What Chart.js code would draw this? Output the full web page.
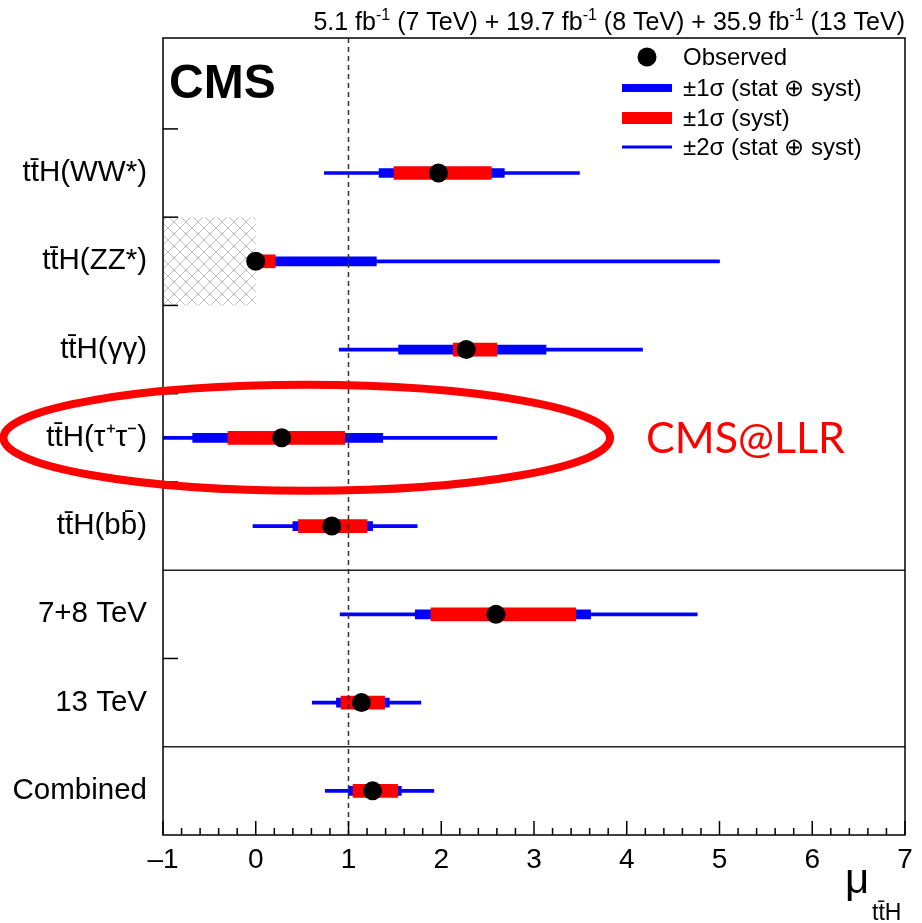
<!DOCTYPE html>
<html>
<head>
<meta charset="utf-8">
<script src="https://cdn.jsdelivr.net/npm/chart.js@4/dist/chart.umd.min.js"></script>
<style>
  html, body { margin: 0; padding: 0; background: #fff; }
  #c { display: block; }
</style>
</head>
<body>
<canvas id="c" width="922" height="923"></canvas>
<script>
// ---------- data ----------
const categories = ['t\u0074\u0304H(WW*)', 't\u0074\u0304H(ZZ*)', 't\u0074\u0304H(\u03b3\u03b3)', 't\u0074\u0304H(\u03c4\u207a\u03c4\u207b)', 't\u0074\u0304H(b\u0062\u0304)', '7+8 TeV', '13 TeV', 'Combined'];
const observed = [1.97, 0.00, 2.27, 0.28, 0.82, 2.59, 1.14, 1.26];
const tot1Lo  = [1.33, 0.00, 1.54, -0.68, 0.40, 1.72, 0.87, 1.00];
const tot1Hi  = [2.68, 1.30, 3.13, 1.37, 1.26, 3.61, 1.44, 1.57];
const syst1Lo = [1.49, 0.00, 2.13, -0.30, 0.46, 1.89, 0.92, 1.05];
const syst1Hi = [2.54, 0.21, 2.60, 0.96, 1.20, 3.45, 1.39, 1.53];
const tot2Lo  = [0.74, 0.00, 0.90, -1.00, -0.03, 0.91, 0.61, 0.75];
const tot2Hi  = [3.49, 5.00, 4.17, 2.60, 1.74, 4.76, 1.78, 1.92];
const xTickValues = [-1, 0, 1, 2, 3, 4, 5, 6, 7];
const sectionBreaks = [4.5, 6.5];
const leftTicks = [-0.5, 0.5, 1.5, 2.5, 3.5, 5.5];
const excludedRows = [1];
const excludedFrom = [-1];
const excludedTo = [0];
const smRef = 1;
const legendLabels = ['Observed', '\u00b11\u03c3 (stat \u2295 syst)', '\u00b11\u03c3 (syst)', '\u00b12\u03c3 (stat \u2295 syst)'];
const titleParts = [['5.1 fb', false], ['-1', true], [' (7 TeV) + 19.7 fb', false], ['-1', true], [' (8 TeV) + 35.9 fb', false], ['-1', true], [' (13 TeV)', false]];
const highlightRow = 3;
const highlightText = 'CMS@LLR';

const BLUE = '#0000ff', RED = '#ff0000', BLACK = '#000000';
const FONT = "'Liberation Sans', Arial, Helvetica, sans-serif";
Chart.defaults.font.family = FONT;
Chart.defaults.color = BLACK;

const rowsToBars = (lo, hi) => lo.map((v, i) => ({ x: [v, hi[i]], y: i }));

const extras = {
  id: 'extras',
  beforeDatasetsDraw(chart) {
    const { ctx, scales: { x, y } } = chart;
    // hatched excluded region
    const pc = document.createElement('canvas');
    pc.width = 12; pc.height = 12;
    const p = pc.getContext('2d');
    p.strokeStyle = '#bdbdbd'; p.lineWidth = 1;
    p.beginPath();
    p.moveTo(0, 0); p.lineTo(12, 12);
    p.moveTo(12, 0); p.lineTo(0, 12);
    p.stroke();
    ctx.save();
    ctx.fillStyle = ctx.createPattern(pc, 'repeat');
    excludedRows.forEach((r, k) => {
      const x0 = x.getPixelForValue(excludedFrom[k]), x1 = x.getPixelForValue(excludedTo[k]);
      const y0 = y.getPixelForValue(r - 0.5), y1 = y.getPixelForValue(r + 0.5);
      ctx.fillRect(x0, y0, x1 - x0, y1 - y0);
    });
    ctx.restore();
  },
  afterDatasetsDraw(chart) {
    const { ctx, chartArea: a, scales: { x, y } } = chart;
    ctx.save();
    // dashed SM line
    ctx.strokeStyle = '#333'; ctx.lineWidth = 1.5; ctx.setLineDash([5, 4]);
    const xs = x.getPixelForValue(smRef);
    ctx.beginPath(); ctx.moveTo(xs, a.top); ctx.lineTo(xs, a.bottom); ctx.stroke();
    ctx.setLineDash([]);
    // section separators
    ctx.strokeStyle = '#222'; ctx.lineWidth = 1.5;
    sectionBreaks.forEach(v => {
      const yy = y.getPixelForValue(v);
      ctx.beginPath(); ctx.moveTo(a.left, yy); ctx.lineTo(a.right, yy); ctx.stroke();
    });
    // left axis ticks
    ctx.strokeStyle = BLACK; ctx.lineWidth = 1.5;
    leftTicks.forEach(v => {
      const yy = y.getPixelForValue(v);
      ctx.beginPath(); ctx.moveTo(a.left, yy); ctx.lineTo(a.left + 15, yy); ctx.stroke();
    });
    // bottom axis ticks (major + minor)
    for (let k = 0; k <= 40; k++) {
      const v = -1 + k * 0.2;
      const xx = x.getPixelForValue(v);
      const len = (k % 5 === 0) ? 14 : 7;
      ctx.beginPath(); ctx.moveTo(xx, a.bottom); ctx.lineTo(xx, a.bottom - len); ctx.stroke();
    }
    // frame
    ctx.strokeStyle = BLACK; ctx.lineWidth = 1.5;
    ctx.strokeRect(a.left, a.top, a.right - a.left, a.bottom - a.top);

    // CMS label
    ctx.fillStyle = BLACK;
    ctx.font = "bold 48px " + FONT;
    ctx.textAlign = 'left'; ctx.textBaseline = 'alphabetic';
    ctx.fillText('CMS', a.left + 6, 98);

    // legend
    ctx.font = "24px " + FONT;
    ctx.textBaseline = 'middle';
    const lx = 683;
    const ly = [57, 88, 118, 147];
    ctx.beginPath(); ctx.arc(647, ly[0], 9.5, 0, Math.PI * 2); ctx.fillStyle = BLACK; ctx.fill();
    ctx.fillStyle = BLUE; ctx.fillRect(622, ly[1] - 4, 50, 8);
    ctx.fillStyle = RED; ctx.fillRect(622, ly[2] - 6, 50, 12);
    ctx.fillStyle = BLUE; ctx.fillRect(622, ly[3] - 1.5, 50, 3);
    ctx.fillStyle = BLACK;
    legendLabels.forEach((t, i) => ctx.fillText(t, lx, ly[i] + 1));

    // top title (right aligned with superscripts)
    const big = "25px " + FONT, small = "16px " + FONT;
    let total = 0;
    titleParts.forEach(([t, sup]) => { ctx.font = sup ? small : big; total += ctx.measureText(t).width; });
    let tx = a.right - total;
    ctx.textBaseline = 'alphabetic'; ctx.textAlign = 'left';
    titleParts.forEach(([t, sup]) => {
      ctx.font = sup ? small : big;
      ctx.fillText(t, tx, sup ? 20 : 30);
      tx += ctx.measureText(t).width;
    });

    // axis title mu_{ttH}
    ctx.font = "42px " + FONT;
    ctx.fillText('\u03bc', 845, 893);
    ctx.font = "23px " + FONT;
    ctx.fillText('t\u0074\u0304H', 872, 920);

    // highlight ellipse + text
    const cx = x.getPixelForValue(0.55), cy = y.getPixelForValue(highlightRow);
    const rx = x.getPixelForValue(0.55 + 3.27) - cx;
    const ry = y.getPixelForValue(highlightRow + 0.6) - cy;
    ctx.strokeStyle = RED; ctx.lineWidth = 8;
    ctx.beginPath(); ctx.ellipse(cx, cy, rx, Math.abs(ry), 0, 0, Math.PI * 2); ctx.stroke();
    ctx.fillStyle = RED;
    ctx.font = "43px Lato, 'Open Sans', sans-serif";
    ctx.textBaseline = 'middle';
    ctx.fillText(highlightText, 646, cy + 1);
    ctx.restore();
  }
};

new Chart(document.getElementById('c'), {
  type: 'bar',
  data: {
    datasets: [
      { label: legendLabels[3], data: rowsToBars(tot2Lo, tot2Hi), backgroundColor: BLUE, barThickness: 3, grouped: false, order: 3, borderWidth: 0 },
      { label: legendLabels[1], data: rowsToBars(tot1Lo, tot1Hi), backgroundColor: BLUE, barThickness: 9, grouped: false, order: 2, borderWidth: 0 },
      { label: legendLabels[2], data: rowsToBars(syst1Lo, syst1Hi), backgroundColor: RED, barThickness: 13, grouped: false, order: 1, borderWidth: 0 },
      { type: 'scatter', indexAxis: 'x', label: legendLabels[0], data: observed.map((v, i) => ({ x: v, y: i })), backgroundColor: BLACK, borderColor: BLACK, pointRadius: 9.5, pointBorderWidth: 0, order: 0 }
    ]
  },
  options: {
    indexAxis: 'y',
    responsive: false,
    animation: false,
    events: [],
    layout: { padding: { top: 38, right: 17, left: 0, bottom: 0 } },
    plugins: { legend: { display: false }, tooltip: { enabled: false }, title: { display: false } },
    scales: {
      x: {
        type: 'linear', position: 'bottom', min: -1, max: 7, offset: false,
        grid: { display: false, drawTicks: false },
        border: { display: false },
        afterBuildTicks: (axis) => { axis.ticks = xTickValues.map(v => ({ value: v })); },
        afterFit: (axis) => { axis.height = 88; },
        ticks: {
          font: { size: 28 }, color: BLACK, padding: 8, maxRotation: 0, autoSkip: false,
          callback: (v) => v < 0 ? '\u2013' + Math.abs(v) : String(v)
        }
      },
      y: {
        type: 'linear', min: -1.53, max: 7.5, reverse: true, offset: false,
        grid: { display: false, drawTicks: false },
        border: { display: false },
        afterBuildTicks: (axis) => { axis.ticks = categories.map((c, i) => ({ value: i })); },
        afterFit: (axis) => { axis.width = 163; },
        ticks: {
          font: { size: 29.5 }, color: BLACK, padding: 16, autoSkip: false,
          callback: (v) => categories[v] !== undefined ? categories[v] : ''
        }
      }
    }
  },
  plugins: [extras]
});
</script>
</body>
</html>
